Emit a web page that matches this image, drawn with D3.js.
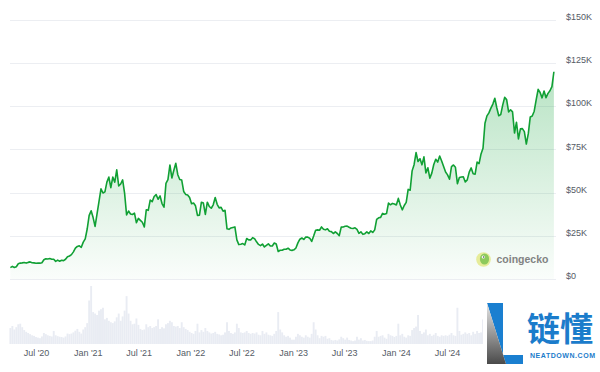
<!DOCTYPE html>
<html>
<head>
<meta charset="utf-8">
<script src="https://cdn.jsdelivr.net/npm/d3@7"></script>
<style>
  html, body { margin: 0; padding: 0; background: #fff; }
  svg { display: block; }
  text { font-family: "Liberation Sans", Arial, sans-serif; }
</style>
</head>
<body>
<svg id="chart" width="600" height="372"></svg>
<script>
// ---- DATA (weekly, starting Wed 2020-04-01) ----
const firstWeek = "2020-04-01";

const price2020 = [6600, 7300, 6650, 7100, 8800,
  9200, 9300, 9500, 9200,
  9600, 9900, 9400, 9300,
  9100, 9250, 9150, 9400, 11100,
  11700, 11600, 11800, 11400,
  11400, 10200, 10900, 10300, 10800,
  10600, 11400, 12900, 13300,
  14100, 15700, 17800, 18800,
  19200, 18300, 21300, 23200, 28900];
const price2021 = [36800, 39400, 35500, 30400,
  37600, 44800, 52100, 49700,
  50400, 56000, 58900, 52800, 58900,
  56000, 63100, 53800, 54900,
  57300, 49500, 37000, 39300,
  37600, 37300, 38100, 32500, 35000,
  33900, 32800, 30100, 40000,
  39700, 45600, 44700, 47700,
  48800, 46100, 48000, 43600, 41500,
  55300, 57400, 65900, 58400,
  62900, 66900, 60300, 57500,
  57200, 50600, 48900, 48600, 47100];
const price2022 = [43500, 43900, 42300, 36800,
  36900, 44400, 43900, 37300,
  44400, 41900, 40900, 42900, 47100,
  43200, 41100, 41400, 39200,
  39700, 29000, 28700, 29500,
  29800, 30100, 22600, 19900, 20100,
  20500, 19700, 23400, 22600,
  22600, 23900, 23300, 21500, 20000,
  19300, 20200, 18500, 19400,
  20300, 19100, 19100, 20800,
  20200, 15900, 16600, 16600, 17200,
  17200, 17800, 16800, 16550];
const price2023 = [16850, 17900, 20900, 23000,
  23700, 22900, 24300, 24200,
  23600, 21700, 24800, 28200, 28400,
  28200, 30100, 28800, 28400,
  29000, 27600, 27400, 26300, 27200,
  26300, 25100, 30000, 30100,
  30500, 30600, 29900, 29300,
  29200, 29600, 28700, 26400, 27300,
  25800, 26200, 27200, 26300,
  27800, 26900, 28400, 34500,
  35400, 35600, 37900, 37400, 37800,
  43900, 42900, 43700, 43400];
const price2024 = [42800, 46600, 42800, 40000, 42500,
  44300, 51800, 51300, 62500,
  66100, 73100, 67900, 69500,
  66000, 70600, 61300, 64300,
  58300, 61200, 66200, 69200, 67600,
  71100, 68200, 65000, 61800,
  60200, 57700, 65000, 65900, 64600,
  55100, 58700, 59000, 59100,
  56100, 57300, 61800, 64200,
  60800, 60600, 67600, 66700, 72300,
  75600, 90000, 94300, 96000,
  98800, 101100, 104500, 99000];
const price2025 = [94400, 95000, 100500, 105000, 103700,
  96600, 97800, 96600, 84400,
  90600, 81000, 86800, 86900,
  85200, 78000, 84000, 93700, 94200,
  97000, 103500, 109600, 107800,
  104700, 108700, 104800, 107300,
  108800, 111200, 119800];

// volume, $B
const vol2020 = [55, 62, 50, 58, 68, 70, 58, 48, 42, 38, 34, 30, 28,
  24, 22, 20, 26, 38, 34, 30, 28, 26, 45, 30, 27, 25, 24,
  22, 26, 36, 34, 36, 40, 46, 52, 42, 36, 50, 58, 72];
const vol2021 = [150, 200, 110, 105, 100, 115, 120, 125, 85, 90, 80, 75, 72,
  78, 92, 105, 80, 95, 115, 165, 105, 80, 68, 70, 88, 66,
  52, 48, 50, 68, 58, 62, 55, 58, 62, 85, 52, 58, 54,
  68, 72, 80, 75, 62, 60, 62, 55, 75, 58, 52, 48, 42];
const vol2022 = [38, 35, 45, 70, 40, 48, 42, 55, 45, 40, 36, 38, 42,
  35, 33, 30, 32, 40, 75, 45, 38, 35, 40, 70, 55, 40,
  38, 40, 45, 38, 35, 38, 36, 40, 32, 30, 45, 35, 40,
  32, 30, 28, 35, 45, 110, 50, 40, 30, 25, 28, 22, 15];
const vol2023 = [15, 25, 35, 30, 25, 22, 30, 25, 22, 35, 75, 50, 30,
  20, 28, 25, 28, 18, 20, 14, 12, 14, 12, 16, 25, 20,
  15, 22, 14, 12, 10, 12, 25, 15, 20, 12, 14, 11, 10,
  10, 12, 25, 45, 25, 28, 30, 22, 18, 35, 30, 28, 24];
const vol2024 = [28, 70, 30, 35, 25, 22, 30, 28, 48, 55, 60, 100, 45,
  35, 40, 50, 30, 35, 28, 32, 38, 28, 25, 30, 28, 30,
  28, 32, 38, 30, 28, 125, 45, 32, 35, 40, 35, 38, 30,
  42, 35, 45, 38, 40, 85, 90, 80, 70, 75, 65, 80, 60];
const vol2025 = [50, 60, 70, 75, 55, 60, 40, 38, 70, 55, 45, 35, 30,
  40, 50, 35, 45, 40, 35, 45, 50, 40, 35, 38, 40, 35, 40, 60, 80];

const yTickValues = [0, 25000, 50000, 75000, 100000, 125000, 150000];
const xTickDates = ["2020-07-01", "2021-01-01", "2021-07-01", "2022-01-01", "2022-07-01",
  "2023-01-01", "2023-07-01", "2024-01-01", "2024-07-01"];
const xTickLabels = ["Jul '20", "Jan '21", "Jul '21", "Jan '22", "Jul '22",
  "Jan '23", "Jul '23", "Jan '24", "Jul '24"];

// ---- BUILD ----
const prices = [].concat(price2020, price2021, price2022, price2023, price2024, price2025);
const volumes = [].concat(vol2020, vol2021, vol2022, vol2023, vol2024, vol2025);
const parse = d3.utcParse("%Y-%m-%d");
const start = parse(firstWeek);
const data = prices.map((p, i) => ({ date: d3.utcDay.offset(start, i * 7), price: p, vol: volumes[i] }));

const svg = d3.select("#chart");
const pxPerDay = 0.28131;
const x0 = 36 - 91 * pxPerDay;
const endDate = data[data.length - 1].date;
const x = d3.scaleUtc()
  .domain([start, endDate])
  .range([x0, x0 + d3.utcDay.count(start, endDate) * pxPerDay]);
const y = d3.scaleLinear().domain([0, 150000]).range([279, 19.5]);
const yVol = d3.scaleLinear().domain([0, 200]).range([344, 286]);

// gridlines
svg.append("g").selectAll("line").data(yTickValues).join("line")
  .attr("x1", 10).attr("x2", 556)
  .attr("y1", d => Math.round(y(d)) + 0.5).attr("y2", d => Math.round(y(d)) + 0.5)
  .attr("stroke", "#eceef2").attr("stroke-width", 1);

// gradient
const defs = svg.append("defs");
const grad = defs.append("linearGradient").attr("id", "areaGrad")
  .attr("gradientUnits", "userSpaceOnUse")
  .attr("x1", 0).attr("x2", 0).attr("y1", y(120000)).attr("y2", y(0));
grad.append("stop").attr("offset", 0).attr("stop-color", "#12a33a").attr("stop-opacity", 0.30);
grad.append("stop").attr("offset", 1).attr("stop-color", "#12a33a").attr("stop-opacity", 0.02);

const lg = defs.append("linearGradient").attr("id", "lGrad")
  .attr("x1", 0).attr("x2", 0).attr("y1", 0).attr("y2", 1);
lg.append("stop").attr("offset", 0).attr("stop-color", "#e6e6e6");
lg.append("stop").attr("offset", 1).attr("stop-color", "#4a4a4a");

// volume bars
svg.append("g").selectAll("rect").data(data).join("rect")
  .attr("x", d => x(d.date) - 0.95)
  .attr("width", 1.9)
  .attr("y", d => yVol(d.vol))
  .attr("height", d => 344 - yVol(d.vol))
  .attr("fill", "#e9ecf3");

// area + line
const area = d3.area().x(d => x(d.date)).y0(y(0)).y1(d => y(d.price));
const line = d3.line().x(d => x(d.date)).y(d => y(d.price));
svg.append("path").datum(data).attr("d", area).attr("fill", "url(#areaGrad)");
svg.append("path").datum(data).attr("d", line)
  .attr("fill", "none").attr("stroke", "#10a034").attr("stroke-width", 1.6)
  .attr("stroke-linejoin", "round");

// y axis labels
const yAxis = d3.axisRight(y).tickValues(yTickValues)
  .tickFormat(d => d === 0 ? "$0" : "$" + (d / 1000) + "K")
  .tickSize(0).tickPadding(0);
const gy = svg.append("g").attr("transform", "translate(566,-3)").call(yAxis);
gy.select(".domain").remove();
gy.selectAll("text").attr("font-size", 9).attr("fill", "#555b66")
  .attr("font-family", "'Liberation Sans', Arial, sans-serif");

// x axis labels
const xAxis = d3.axisBottom(x).tickValues(xTickDates.map(parse))
  .tickFormat((d, i) => xTickLabels[i]).tickSize(0).tickPadding(0);
const gx = svg.append("g").attr("transform", "translate(0,350)").call(xAxis);
gx.select(".domain").remove();
gx.selectAll("text").attr("font-size", 9).attr("fill", "#555b66")
  .attr("font-family", "'Liberation Sans', Arial, sans-serif");

// coingecko watermark
const cg = svg.append("g").attr("opacity", 0.85);
cg.append("circle").attr("cx", 483.5).attr("cy", 259.5).attr("r", 7.3).attr("fill", "#e4ea8a");
cg.append("ellipse").attr("cx", 484.5).attr("cy", 259).attr("rx", 4.6).attr("ry", 5.6).attr("fill", "#7cc242");
cg.append("circle").attr("cx", 483.3).attr("cy", 257).attr("r", 1.6).attr("fill", "#fff");
cg.append("circle").attr("cx", 483.6).attr("cy", 257).attr("r", 0.8).attr("fill", "#333");
cg.append("text").attr("x", 496.5).attr("y", 263.3).text("coingecko")
  .attr("font-size", 10.5).attr("font-weight", "bold").attr("fill", "#6e6e6e")
  .attr("font-family", "'Liberation Sans', Arial, sans-serif");

// neatdown watermark
const wm = svg.append("g");
wm.append("rect").attr("x", 483).attr("y", 284).attr("width", 117).attr("height", 88).attr("fill", "#fff");
wm.append("polygon").attr("points", "487,303 503,303 503,355 523,355 523,364 506,364")
  .attr("fill", "#1a7fd0");
wm.append("polygon").attr("points", "487,303 506,364 487,364").attr("fill", "url(#lGrad)");
wm.append("text").attr("x", 527).attr("y", 341).text("链懂")
  .attr("font-size", 33).attr("font-weight", "bold").attr("fill", "#1b7ccb")
  .style("font-family", "'Noto Sans CJK SC', sans-serif");
wm.append("text").attr("x", 530).attr("y", 357.5).text("NEATDOWN.COM")
  .attr("font-size", 7).attr("font-weight", "bold").attr("fill", "#1b7ccb")
  .attr("textLength", 65).attr("lengthAdjust", "spacing");
</script>
</body>
</html>
